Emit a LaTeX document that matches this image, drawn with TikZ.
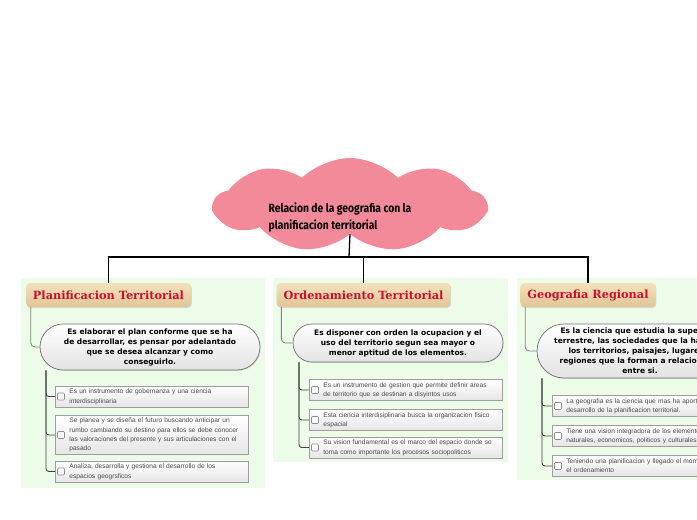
\documentclass[tikz,border=0pt]{standalone}
\usepackage{fontspec}
\usepackage{tikz}
\usetikzlibrary{positioning,shapes.misc,shapes.symbols,shadows}
\definecolor{cloudc}{HTML}{F38A99}
\definecolor{panelc}{HTML}{EDFBE9}
\definecolor{ttlc}{HTML}{C8102E}
\definecolor{ttltop}{HTML}{F3E1BD}
\definecolor{ttlbot}{HTML}{E1C595}
\definecolor{edgec}{HTML}{6E6E6E}
\definecolor{textc}{HTML}{4A4A4A}
\newfontfamily\cloudfont[FakeStretch=0.86]{Fira Sans}
\newfontfamily\ttlfont{DejaVu Serif}
\newfontfamily\ovfont{DejaVu Sans}
\newfontfamily\enfont{Liberation Sans}
\tikzset{
  panel/.style={fill=panelc,draw=none},
  cloudbox/.style={cloud,cloud puffs=9,cloud puff arc=90,cloud ignores aspect,minimum width=272pt,minimum height=94pt,fill=cloudc,draw=none},
  rootlbl/.style={font=\cloudfont\bfseries\fontsize{12}{17}\selectfont,align=left,inner sep=0pt},
  ttl/.style={rounded corners=4pt,top color=ttltop,bottom color=ttlbot,draw=none,minimum height=24pt,inner xsep=7pt,font=\ttlfont\bfseries\fontsize{11.3}{13}\selectfont,text=ttlc,drop shadow={opacity=0.25,shadow xshift=0.8pt,shadow yshift=-1pt}},
  oval/.style={rounded rectangle,draw=edgec,line width=0.7pt,top color=white,bottom color=black!11,align=center,inner sep=0pt,font=\ovfont\bfseries\fontsize{7.5}{10}\selectfont,drop shadow={opacity=0.2,shadow xshift=0.8pt,shadow yshift=-1pt}},
  entry/.style={draw=black!38,line width=0.8pt,top color=white,bottom color=black!10,anchor=west,text width=189pt,inner xsep=2pt,inner ysep=1.2pt,align=left,font=\enfont\fontsize{6.6}{9.3}\selectfont,text=textc},
  chk/.style={draw=black!45,fill=white,rounded corners=1pt,minimum size=7pt,inner sep=0pt,line width=0.6pt},
  trunk/.style={draw=black,line width=1.3pt},
  link/.style={draw=black!50,line width=0.8pt,rounded corners=4pt},
  brn/.style={draw=black!75,line width=0.9pt,rounded corners=3pt},
}
\newcommand{\entry}[3]{\node[entry] (#1) at (#2) {\hspace*{12pt}\begin{tabular}{@{}l@{}}#3\end{tabular}};\node[chk] (#1c) at ([xshift=6pt]#1.west) {};}

\begin{document}
\begin{tikzpicture}[x=1pt,y=-1pt]
  \useasboundingbox (0,0) rectangle (697,520);
  \clip (0,0) rectangle (697,520);
  \fill[panel] (21,278) rectangle (265,488);
  \fill[panel] (273,278) rectangle (508,462);
  \fill[panel] (517,278) rectangle (700,480);

  \node[cloudbox] (cl) at (350,205) {};
  \node[rootlbl] (root) at (340,217) {Relacion de la geografia con la\\planificacion territorial};

  \node[ttl] (t1) at (108.5,295) {Planificacion Territorial};
  \node[ttl] (t2) at (363.5,295) {Ordenamiento Territorial};
  \node[ttl] (t3) at (588,295) {Geografia Regional};
  \coordinate (hub) at (349,257);
  \draw[trunk] (cl.south) -- (hub);
  \draw[trunk] (t1.north) |- (hub) -| (t3.north);
  \draw[trunk] (hub) -| (t2.north);

  \node[oval,minimum width=220pt,minimum height=46pt] (o1) at (150,347) {Es elaborar el plan conforme que se ha\\de desarrollar, es pensar por adelantado\\que se desea alcanzar y como\\conseguirlo.};
  \node[oval,minimum width=210pt,minimum height=38pt] (o2) at (398,343) {Es disponer con orden la ocupacion y el\\uso del territorio segun sea mayor o\\menor aptitud de los elementos.};
  \node[oval,minimum width=206pt,minimum height=54pt] (o3) at (640,351) {Es la ciencia que estudia la superficie\\terrestre, las sociedades que la habitan,\\los territorios, paisajes, lugares o\\regiones que la forman a relacionarse\\entre si.};
  \draw[link] ([xshift=5pt]t1.south west) |- (o1.west);
  \draw[link] ([xshift=5pt]t2.south west) |- (o2.west);
  \draw[link] ([xshift=5pt]t3.south west) |- (o3.west);

  \entry{e11}{55,396.5}{Es un instrumento de gobernanza y una ciencia\\interdisciplinaria}
  \entry{e12}{55,435}{Se planea y se diseña el futuro buscando anticipar un\\rumbo cambiando su destino para ellos se debe conocer\\las valoraciones del presente y sus articulaciones con el\\pasado}
  \entry{e13}{55,471.5}{Analiza, desarrolla y gestiona el desarrollo de los\\espacios geogrsficos}
  \entry{e21}{309,390}{Es un instrumento de gestion que permite definir areas\\de territorio que se destinan a disyintos usos}
  \entry{e22}{309,420}{Esta ciencia interdisiplinaria busca la organizacion fisico\\espacial}
  \entry{e23}{309,447.5}{Su vision fundamental es el marco del espacio donde se\\toma como importante los procesos sociopoliticos}
  \entry{e31}{552,406}{La geografia es la ciencia que mas ha aportado al\\desarrollo de la planificacion territorial.}
  \entry{e32}{552,436}{Tiene una vision integradora de los elementos\\naturales, economicos, politicos y culturales}
  \entry{e33}{552,466}{Teniendo una planificacion y llegado el momento\\el ordenamiento}

  \foreach \e in {e11,e12,e13}
    \draw[brn] ([xshift=-9pt]e11.west |- o1.south) |- (\e.west);
  \foreach \e in {e21,e22,e23}
    \draw[brn] ([xshift=-10pt]e21.west |- o2.south) |- (\e.west);
  \foreach \e in {e31,e32,e33}
    \draw[brn] ([xshift=-10pt]e31.west |- o3.south) |- (\e.west);
\end{tikzpicture}
\end{document}
